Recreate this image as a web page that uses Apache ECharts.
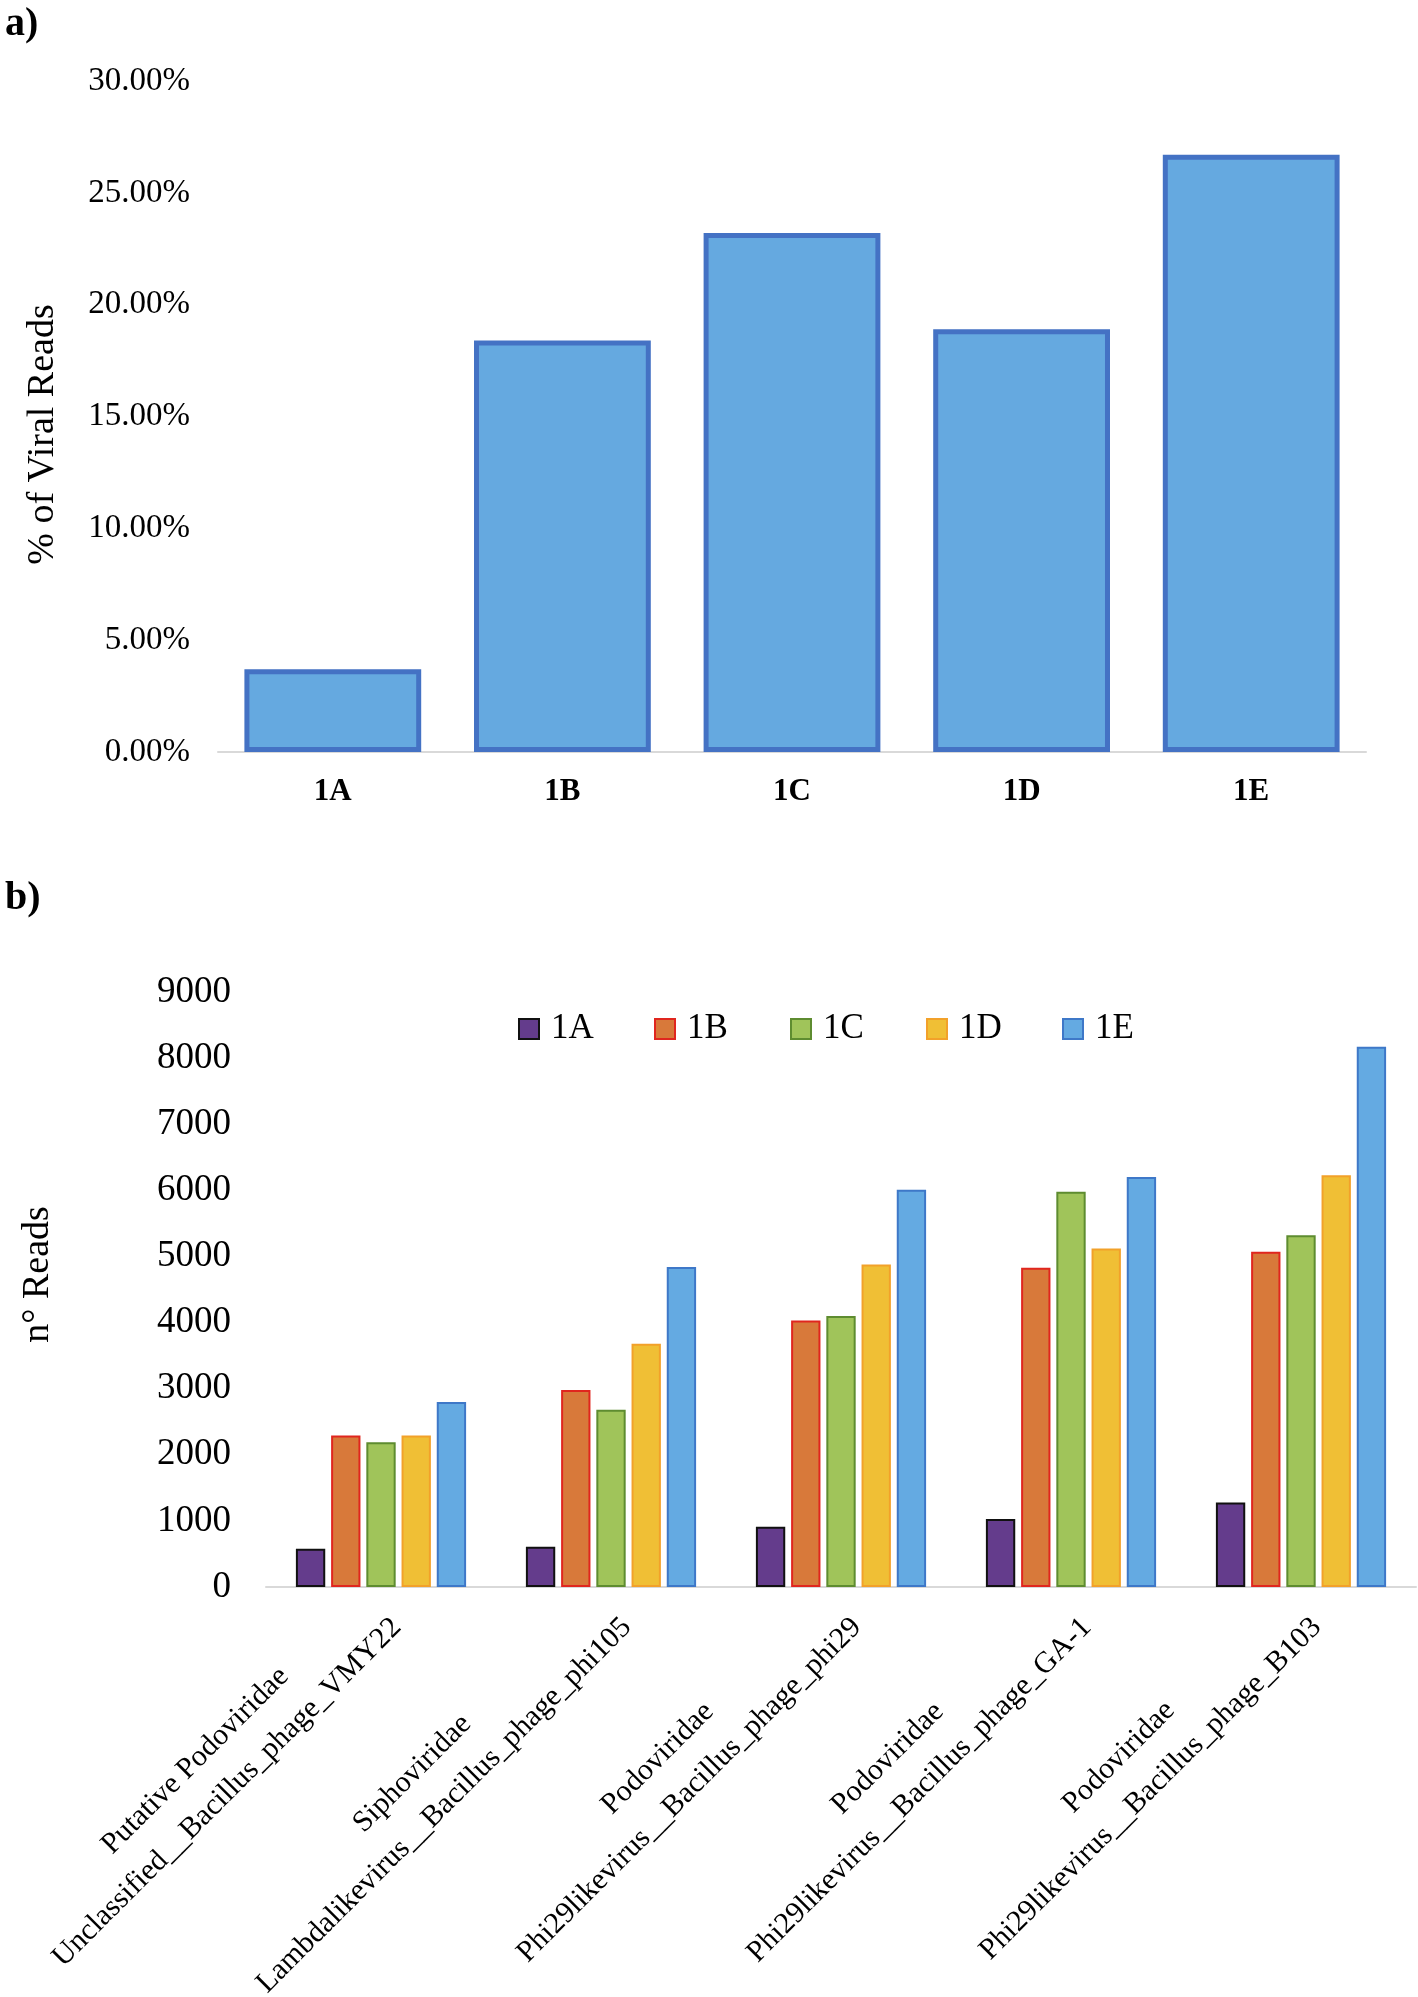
<!DOCTYPE html>
<html>
<head>
<meta charset="utf-8">
<script src="https://cdn.jsdelivr.net/npm/echarts@6/dist/echarts.min.js"></script>
<style>
html,body{margin:0;padding:0;background:#fff;}
#chart{width:1418px;height:1997px;}
</style>
</head>
<body>
<div id="chart"></div>
<script>
// Panel a
const samplesA = ['1A', '1B', '1C', '1D', '1E'];
const viralPercent = [3.7, 18.4, 23.2, 18.9, 26.7];
const percentTicks = { min: 0, max: 30, interval: 5 };

// Panel b
const phageLine1 = ['Putative Podoviridae', 'Siphoviridae', 'Podoviridae', 'Podoviridae', 'Podoviridae'];
const phageLine2 = ['Unclassified__Bacillus_phage_VMY22', 'Lambdalikevirus__Bacillus_phage_phi105',
  'Phi29likevirus__Bacillus_phage_phi29', 'Phi29likevirus__Bacillus_phage_GA-1', 'Phi29likevirus__Bacillus_phage_B103'];
const readsTicks = { min: 0, max: 9000, interval: 1000 };
const sampleNames = ['1A', '1B', '1C', '1D', '1E'];
const reads1A = [580, 610, 910, 1030, 1280];
const reads1B = [2290, 2980, 4030, 4830, 5070];
const reads1C = [2190, 2680, 4100, 5980, 5320];
const reads1D = [2290, 3680, 4880, 5120, 6230];
const reads1E = [2800, 4840, 6010, 6200, 8170];

const FONT = '"Liberation Serif", "Times New Roman", serif';
const fills = ['#643C8C', '#D8793A', '#A0C45A', '#F0BF35', '#64AAE2'];
const borders = ['#111111', '#E0261E', '#5E8C30', '#F2A12A', '#3E78C8'];
const readsSeries = [reads1A, reads1B, reads1C, reads1D, reads1E];

const categoriesB = phageLine1.map((l1, i) => '{c|' + l1 + '}\n{c|' + phageLine2[i] + '}');

const chart = echarts.init(document.getElementById('chart'), null, { renderer: 'canvas' });

const option = {
  backgroundColor: '#ffffff',
  animation: false,
  textStyle: { fontFamily: FONT, color: '#000' },
  title: [
    { text: 'a)', left: 0, top: 0, textStyle: { fontFamily: FONT, fontWeight: 'bold', fontSize: 40, color: '#000' } },
    { text: 'b)', left: 0, top: 874, textStyle: { fontFamily: FONT, fontWeight: 'bold', fontSize: 40, color: '#000' } }
  ],
  legend: {
    data: sampleNames,
    left: 513,
    top: 1006,
    itemWidth: 20,
    itemHeight: 20,
    itemGap: 58,
    icon: 'rect',
    textStyle: { fontFamily: FONT, fontSize: 35, color: '#000', width: 45, padding: [0, 0, 0, 7], lineHeight: 36 }
  },
  grid: [
    { left: 218, right: 52, top: 81, height: 671, containLabel: false, outerBoundsMode: 'none' },
    { left: 266, right: 2, top: 992, height: 595, containLabel: false, outerBoundsMode: 'none' }
  ],
  xAxis: [
    {
      gridIndex: 0, type: 'category', data: samplesA,
      axisLine: { lineStyle: { color: '#D9D9D9', width: 2 } },
      axisTick: { show: false },
      axisLabel: { fontFamily: FONT, fontWeight: 'bold', fontSize: 31, color: '#000', margin: 24 }
    },
    {
      gridIndex: 1, type: 'category', data: categoriesB,
      axisLine: { lineStyle: { color: '#D9D9D9', width: 2 } },
      axisTick: { show: false },
      axisLabel: {
        interval: 0, rotate: 45, margin: 20, color: '#000',
        rich: { c: { align: 'center', fontFamily: FONT, fontSize: 30, lineHeight: 45, color: '#000' } }
      }
    }
  ],
  yAxis: [
    {
      gridIndex: 0, type: 'value', min: percentTicks.min, max: percentTicks.max, interval: percentTicks.interval,
      splitLine: { show: false }, axisLine: { show: false }, axisTick: { show: false },
      axisLabel: { fontFamily: FONT, fontSize: 33, color: '#000', margin: 28, formatter: v => v.toFixed(2) + '%' },
      name: '% of Viral Reads', nameLocation: 'middle', nameGap: 156, nameRotate: 90,
      nameTextStyle: { fontFamily: FONT, fontSize: 38, color: '#000', padding: [0, 36, 0, 0] }
    },
    {
      gridIndex: 1, type: 'value', min: readsTicks.min, max: readsTicks.max, interval: readsTicks.interval,
      splitLine: { show: false }, axisLine: { show: false }, axisTick: { show: false },
      axisLabel: { fontFamily: FONT, fontSize: 37, color: '#000', margin: 35, formatter: v => String(v) },
      name: 'n° Reads', nameLocation: 'middle', nameGap: 209, nameRotate: 90,
      nameTextStyle: { fontFamily: FONT, fontSize: 38, color: '#000', padding: [0, 0, 0, 30] }
    }
  ],
  series: [
    {
      name: 'Viral reads', type: 'bar', xAxisIndex: 0, yAxisIndex: 0, data: viralPercent,
      barCategoryGap: '23%',
      itemStyle: { color: '#65A9E0', borderColor: '#4472C4', borderWidth: 5 }
    }
  ].concat(readsSeries.map((d, i) => ({
    name: sampleNames[i], type: 'bar', xAxisIndex: 1, yAxisIndex: 1, data: d,
    barGap: '20%', barCategoryGap: '26%',
    itemStyle: { color: fills[i], borderColor: borders[i], borderWidth: 2 }
  })))
};

chart.setOption(option);
</script>
</body>
</html>
